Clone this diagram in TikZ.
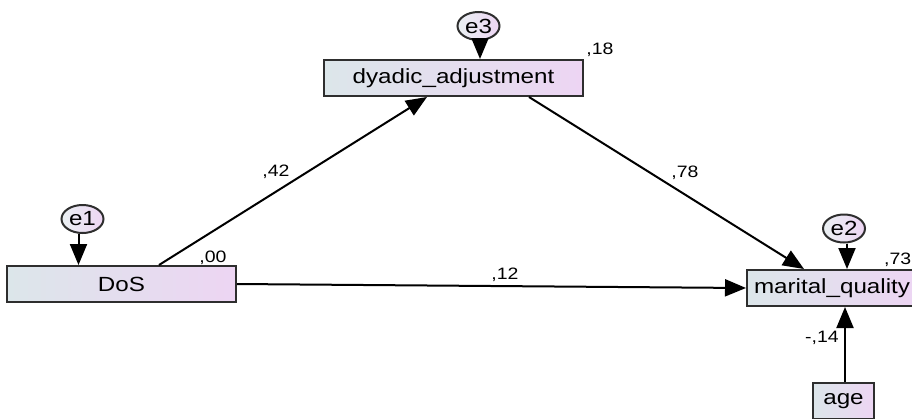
\documentclass[tikz,border=0pt]{standalone}
\usepackage{fontspec}
\setmainfont{Liberation Sans}[FakeStretch=1.18]
\usetikzlibrary{arrows.meta,shapes.geometric}
\definecolor{boxL}{HTML}{DCE6EA}
\definecolor{boxR}{HTML}{EDD5F3}
\definecolor{edge}{HTML}{2E2E2E}
\tikzset{
  var/.style={draw=edge, line width=2pt, rectangle, left color=boxL, right color=boxR,
    minimum height=36pt, inner sep=0pt, font=\fontsize{20.5}{24}\selectfont},
  err/.style={draw=edge, line width=2pt, ellipse, left color=boxL!60!white, right color=boxR,
    minimum width=42pt, minimum height=28pt, inner sep=0pt, font=\fontsize{20.5}{24}\selectfont},
  path/.style={draw=black, line width=2pt, -{Triangle[length=21pt,width=17pt]}},
  coef/.style={font=\fontsize{16.5}{19}\selectfont, inner sep=0pt}
}
\begin{document}
\begin{tikzpicture}[x=1pt,y=-1pt]
\useasboundingbox (0,0) rectangle (912,418);
% nodes
\node[var, minimum width=259pt] (dyad) at (453.5,78) {dyadic\_adjustment};
\node[var, minimum width=229pt] (dos) at (121.5,284) {DoS};
\node[var, minimum width=170pt] (mq) at (832,288) {marital\_quality};
\node[var, minimum width=61pt] (age) at (843.5,401) {age};
\node[err] (e1) at (82.5,219) {e1};
\node[err] (e3) at (478.5,26) {e3};
\node[err] (e2) at (844,228.5) {e2};
% paths
\draw[path] ([xshift=1.5pt]e3.south) -- ([xshift=1.5pt]e3.south |- dyad.north);
\draw[path] ([xshift=-4pt]e1.south) -- ([xshift=-4pt]e1.south |- dos.north);
\draw[path] ([xshift=3pt]e2.south) -- ([xshift=3pt]e2.south |- mq.north);
\draw[path] ([xshift=1.5pt]age.north) -- ([xshift=1.5pt]age.north |- mq.south);
\draw[path] ([xshift=153pt]dos.north west) -- ([xshift=104pt]dyad.south west);
\draw[path] ([xshift=206pt]dyad.south west) -- ([xshift=58pt]mq.north west);
\draw[path] (dos.east) -- (mq.west);
% coefficients
\node[coef] (c18) at (600,50) {,18};
\node[coef] (c00) at (213,258) {,00};
\node[coef] (c42) at (276,172) {,42};
\node[coef] (c78) at (685,173) {,78};
\node[coef] (c12) at (505,275) {,12};
\node[coef] (c14) at (822,338) {-,14};
\node[coef, anchor=east] (c73) at (911.5,260) {,73};
\end{tikzpicture}
\end{document}
